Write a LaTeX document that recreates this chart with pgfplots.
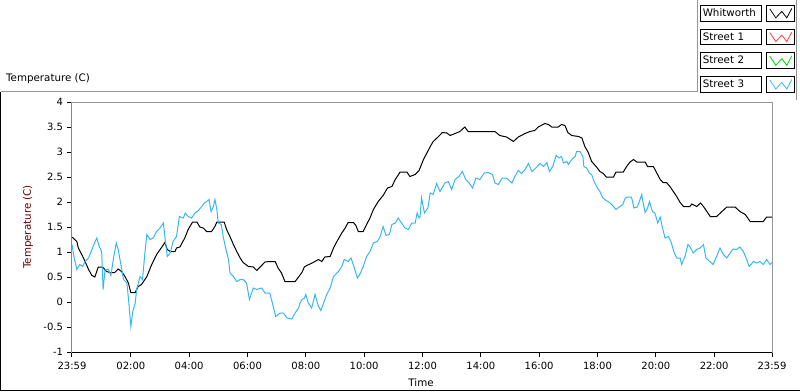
\documentclass[border=0pt]{standalone}
\usepackage{pgfplots}
\pgfplotsset{compat=1.18}
\usepackage{fontspec}
\setmainfont{DejaVu Sans}
\definecolor{streetblue}{RGB}{56,182,240}
\definecolor{streetred}{RGB}{255,64,64}
\definecolor{streetgreen}{RGB}{0,210,0}
\definecolor{framegray}{RGB}{150,150,150}
\definecolor{labelred}{RGB}{100,0,0}
\newcommand{\lblfont}{\fontsize{10.3bp}{12bp}\selectfont}
\begin{document}
\begin{tikzpicture}[font=\lblfont]
\useasboundingbox (-72bp,-40bp) rectangle (728bp,352bp);
\begin{axis}[
  scale only axis, width=700bp, height=250bp,
  at={(0,0)}, anchor=south west,
  xmin=0, xmax=1440, ymin=-1, ymax=4,
  xtick={0,121,241,361,481,601,721,841,961,1081,1201,1321,1440},
  xticklabels={23:59,02:00,04:00,06:00,08:00,10:00,12:00,14:00,16:00,18:00,20:00,22:00,23:59},
  minor x tick num=8,
  ytick={-1,-0.5,0,0.5,1,1.5,2,2.5,3,3.5,4},
  yticklabels={-1,-0.5,0,0.5,1,1.5,2,2.5,3,3.5,4},
  tick align=outside, tick pos=left,
  major tick length=5bp, minor tick length=3bp,
  tick style={black, line width=1bp},
  ticklabel style={font=\fontsize{10bp}{11bp}\selectfont, black},
  xticklabel style={yshift=-1.5bp},
  yticklabel style={xshift=-0.5bp},
  axis line style={framegray, line width=1bp},
  xlabel={Time}, ylabel={Temperature (C)},
  every axis x label/.style={at={(axis description cs:0.4986,-0.124)}, anchor=center, inner sep=0pt, black, font=\lblfont},
  every axis y label/.style={at={(axis description cs:-0.0629,0.5)}, rotate=90, anchor=center, inner sep=0pt, labelred, font=\lblfont},
  title={Temperature (C)},
  title style={at={(axis description cs:-0.0943,1.0588)}, anchor=base west, inner sep=0pt, font=\lblfont},
  legend plot pos=right,
  legend cell align=left,
  legend image code/.code={
    \draw[black, fill=white, line width=1bp, solid] (0bp,-7.85bp) rectangle (27.7bp,7.85bp);
    \draw[#1, line width=0.8bp, solid] (3bp,4.5bp) -- (9bp,-4.5bp) -- (15bp,2bp) -- (20bp,-4.5bp) -- (25bp,5bp);
  },
  legend style={draw=none, fill=none, inner sep=0pt, outer sep=0pt,
    row sep=7bp, column sep=4.6bp,
    at={(axis description cs:1.03286,1.388)}, anchor=north east,
    nodes={draw=black, line width=1bp, fill=white, minimum height=15.7bp,
      text width=56.4bp, inner sep=2bp, align=left,
      font=\fontsize{10.3bp}{12bp}\selectfont}},
]
\addplot[black, line width=1bp] coordinates {
(0,1.30) (10,1.21) (13,1.08) (20,0.95) (27,0.81) (34,0.65) (41,0.53) (47,0.50)
(54,0.70) (63,0.70) (71,0.61) (78,0.59) (88,0.59) (95,0.66) (102,0.61) (109,0.51)
(116,0.38) (121,0.19) (130,0.19) (136,0.31) (143,0.35) (154,0.51) (164,0.75) (174,0.95)
(185,1.10) (191,1.19) (196,1.05) (202,1.01) (212,1.01) (215,1.08) (222,1.10) (232,1.28)
(239,1.45) (248,1.60) (257,1.60) (263,1.50) (270,1.48) (277,1.41) (287,1.41) (294,1.51)
(298,1.60) (313,1.60) (318,1.45) (325,1.31) (332,1.15) (339,1.01) (346,0.88) (352,0.79)
(363,0.71) (373,0.70) (380,0.63) (387,0.70) (397,0.80) (407,0.81) (418,0.81) (424,0.68)
(431,0.58) (438,0.41) (459,0.41) (466,0.50) (473,0.59) (478,0.70) (483,0.73) (496,0.79)
(507,0.85) (514,0.81) (520,0.90) (531,0.91) (538,1.08) (545,1.21) (555,1.38) (562,1.48)
(568,1.59) (579,1.59) (584,1.53) (589,1.41) (599,1.41) (606,1.55) (613,1.68) (620,1.85)
(630,2.01) (640,2.13) (649,2.28) (658,2.31) (665,2.45) (675,2.60) (689,2.60) (695,2.51)
(706,2.55) (714,2.63) (723,2.85) (730,2.98) (737,3.11) (743,3.21) (754,3.31) (762,3.39)
(771,3.38) (778,3.33) (788,3.37) (798,3.41) (808,3.50) (815,3.41) (870,3.41) (880,3.33)
(894,3.30) (908,3.21) (918,3.30) (932,3.37) (942,3.41) (952,3.43) (959,3.50) (973,3.57)
(980,3.55) (987,3.50) (1000,3.50) (1007,3.55) (1014,3.53) (1020,3.39) (1028,3.33) (1042,3.31)
(1049,3.28) (1055,3.11) (1062,2.99) (1069,2.81) (1079,2.70) (1086,2.61) (1093,2.57) (1099,2.50)
(1114,2.50) (1119,2.60) (1134,2.60) (1141,2.71) (1148,2.80) (1155,2.85) (1162,2.80) (1179,2.80)
(1184,2.71) (1196,2.71) (1203,2.58) (1210,2.45) (1216,2.39) (1223,2.39) (1230,2.31) (1237,2.21)
(1244,2.11) (1251,1.99) (1258,1.91) (1271,1.91) (1275,1.96) (1285,1.91) (1293,1.98) (1299,1.91)
(1306,1.81) (1313,1.71) (1326,1.71) (1337,1.81) (1347,1.90) (1364,1.90) (1374,1.81) (1385,1.75)
(1395,1.61) (1422,1.61) (1429,1.70) (1440,1.70)
};
\addlegendentry{Whitworth}
\addlegendimage{streetred}
\addlegendentry{Street 1}
\addlegendimage{streetgreen}
\addlegendentry{Street 2}
\addplot[streetblue, line width=1bp] coordinates {
(0,1.15) (4,0.91) (10,0.65) (16,0.75) (22,0.71) (27,0.81) (34,0.88) (41,1.05)
(45,1.15) (51,1.28) (56,1.11) (61,1.01) (64,0.25) (68,0.65) (75,0.65) (80,0.53)
(85,0.85) (91,1.18) (95,1.05) (100,0.78) (106,0.45) (113,0.38) (117,-0.02) (121,-0.49)
(125,-0.19) (130,-0.02) (133,0.25) (140,0.51) (145,0.45) (150,0.98) (154,1.35) (161,1.25)
(167,1.28) (174,1.41) (181,1.48) (188,1.58) (191,1.31) (196,0.91) (202,0.98) (208,1.21)
(215,1.31) (221,1.71) (229,1.68) (233,1.78) (239,1.71) (246,1.68) (253,1.78) (260,1.83)
(267,1.91) (272,1.98) (277,2.01) (282,2.05) (286,1.81) (291,1.91) (294,2.05) (298,1.85)
(301,1.58) (307,1.55) (311,1.31) (316,1.08) (322,0.85) (325,0.58) (332,0.51) (339,0.41)
(346,0.45) (352,0.45) (359,0.38) (365,0.05) (373,0.28) (380,0.25) (390,0.28) (397,0.18)
(407,0.18) (414,-0.09) (419,-0.29) (428,-0.22) (435,-0.22) (442,-0.32) (452,-0.34) (459,-0.22)
(466,-0.12) (469,-0.02) (473,0.05) (478,0.08) (481,0.15) (486,-0.02) (493,-0.12) (500,0.15)
(507,-0.09) (512,-0.17) (518,-0.01) (524,0.15) (531,0.28) (538,0.51) (548,0.61) (555,0.71)
(560,0.85) (568,0.81) (574,0.88) (580,0.71) (587,0.48) (592,0.55) (599,0.71) (606,0.91)
(613,1.01) (620,1.18) (628,1.21) (634,1.31) (640,1.51) (646,1.33) (653,1.35) (658,1.55)
(665,1.58) (671,1.68) (678,1.58) (685,1.48) (692,1.45) (699,1.58) (706,1.58) (710,1.78)
(714,1.68) (716,1.71) (719,2.08) (725,1.78) (732,1.88) (737,2.18) (743,2.15) (750,2.37)
(757,2.21) (767,2.38) (774,2.41) (781,2.25) (788,2.45) (796,2.51) (803,2.61) (810,2.45)
(817,2.38) (824,2.28) (831,2.48) (839,2.45) (848,2.58) (856,2.59) (865,2.55) (870,2.38)
(877,2.35) (885,2.48) (894,2.48) (905,2.38) (911,2.51) (918,2.63) (925,2.57) (932,2.65)
(939,2.77) (946,2.61) (951,2.65) (956,2.70) (963,2.77) (970,2.71) (977,2.79) (982,2.61)
(989,2.71) (996,2.93) (1002,2.88) (1007,2.91) (1011,2.78) (1018,2.81) (1021,2.75) (1028,2.85)
(1035,2.91) (1038,3.01) (1045,3.01) (1051,2.91) (1053,2.71) (1059,2.68) (1064,2.58) (1069,2.55)
(1074,2.41) (1081,2.28) (1086,2.21) (1092,2.08) (1099,2.03) (1107,1.98) (1114,1.91) (1119,1.85)
(1127,1.91) (1133,1.95) (1138,2.08) (1144,2.10) (1151,2.10) (1156,1.88) (1163,1.90) (1167,2.01)
(1172,2.15) (1175,1.98) (1179,1.79) (1184,1.88) (1188,2.01) (1194,1.81) (1199,1.78) (1205,1.58)
(1210,1.70) (1214,1.51) (1220,1.28) (1227,1.31) (1232,1.21) (1239,0.98) (1244,0.88) (1251,0.88)
(1254,0.75) (1261,0.91) (1267,1.15) (1271,1.11) (1278,0.98) (1285,1.05) (1292,1.08) (1299,1.15)
(1304,0.88) (1312,0.81) (1319,0.75) (1326,0.91) (1333,1.08) (1340,0.95) (1347,0.88) (1354,0.98)
(1360,1.06) (1367,1.05) (1374,1.10) (1381,1.01) (1388,0.85) (1393,0.71) (1402,0.81) (1409,0.78)
(1415,0.81) (1422,0.75) (1429,0.85) (1436,0.75) (1440,0.79)
};
\addlegendentry{Street 3}
\draw[black, line width=1bp] (rel axis cs:0,1) -- (rel axis cs:0,0) -- (rel axis cs:1,0);
\end{axis}
% panel frame
\draw[framegray, line width=1bp] (-71bp,260bp) -- (625bp,260bp) -- (625bp,352bp);
\draw[framegray, line width=1bp] (724bp,352bp) -- (724bp,252bp);
\draw[black, line width=1bp] (-71bp,260bp) -- (-71bp,-38bp) -- (728bp,-38bp);
\end{tikzpicture}
\end{document}
